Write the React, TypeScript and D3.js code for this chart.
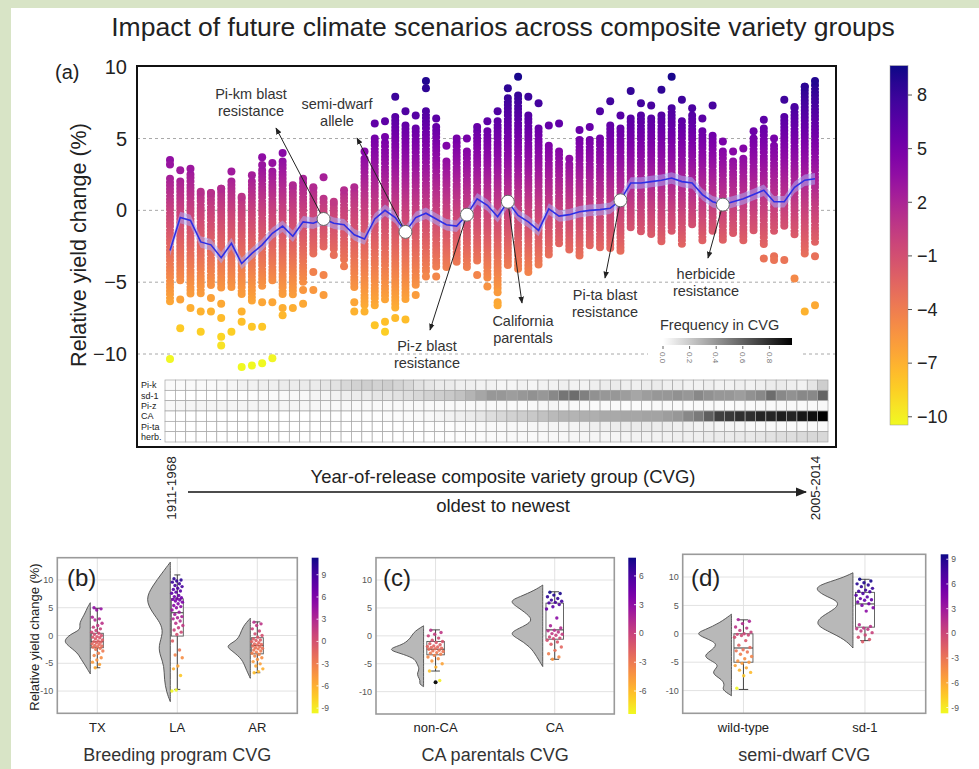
import React from "react";
import * as d3 from "d3";

const FONT = "'Liberation Sans', Arial, sans-serif";

// ---------------- Panel (a) data ----------------
const meanYield = [
  -2.8, -0.5, -0.7, -2.2, -2.4, -3.3, -2.3, -3.7,
  -3.0, -2.4, -1.6, -1.1, -1.8, -0.8, -0.9, -0.6,
  -0.9, -1.0, -1.7, -2.0, -0.6, 0.0, -0.5, -1.5,
  -0.5, -0.2, -0.6, -1.0, -1.1, -0.3, 0.8, 0.35,
  -0.45, 0.6, -0.35, -0.8, -1.4, 0.1, -0.4, -0.3,
  -0.1, 0.0, 0.05, 0.15, 0.7, 1.9, 1.9, 2.0,
  2.1, 2.25, 2.0, 1.9, 1.1, 0.6, 0.4, 0.6,
  0.8, 1.1, 1.4, 0.6, 0.6, 1.6, 2.1, 2.2,
];
const denseHi = [
  2.2, 2.0, 2.5, 1.1, 1.2, 1.5, 2.0, 0.8,
  2.0, 2.8, 2.7, 3.4, 1.5, 1.9, 1.5, 0.8,
  0.4, 1.1, 1.3, 3.6, 5.0, 4.7, 6.5, 5.9,
  5.7, 6.9, 5.8, 3.4, 4.7, 4.1, 5.5, 5.5,
  6.2, 7.8, 8.0, 6.6, 5.7, 4.5, 4.1, 3.2,
  4.9, 4.9, 5.0, 5.9, 5.7, 6.4, 6.6, 6.4,
  6.6, 7.1, 6.2, 6.6, 5.5, 5.2, 4.1, 3.4,
  3.6, 5.0, 5.7, 4.5, 6.5, 7.1, 8.6, 8.7,
];
const denseLo = [
  -6.4, -5.0, -5.9, -5.9, -5.4, -5.4, -5.4, -5.9,
  -6.5, -5.4, -5.0, -5.9, -5.9, -5.2, -3.1, -2.6,
  -2.9, -3.6, -5.4, -6.6, -6.8, -6.4, -6.8, -6.4,
  -5.4, -4.3, -4.0, -4.0, -3.6, -4.0, -3.6, -4.7,
  -5.4, -4.0, -4.3, -4.5, -4.0, -3.1, -2.4, -2.9,
  -3.35, -2.65, -2.75, -2.65, -2.9, -1.25, -1.6, -1.7,
  -2.2, -1.5, -2.5, -1.0, -2.2, -1.5, -2.2, -1.7,
  -2.2, -1.5, -2.4, -1.5, -1.25, -1.7, -3.1, -2.4,
];
const topDot = [
  3.5, 2.8, 2.9, 1.3, 1.2, 1.5, 2.7, 0.95,
  2.45, 3.7, 3.3, 4.0, 1.75, 2.2, 1.6, 2.3,
  0.6, 1.4, 1.6, 4.1, 6.05, 6.2, 7.9, 6.9,
  6.6, 9.0, 6.4, 4.5, 5.0, 5.0, 5.8, 6.2,
  6.9, 8.5, 9.3, 7.9, 7.45, 5.9, 6.05, 3.6,
  5.6, 5.8, 6.9, 7.6, 6.6, 8.3, 7.45, 7.3,
  8.4, 9.3, 7.7, 7.1, 6.4, 7.3, 4.8, 4.1,
  4.3, 5.5, 6.3, 5.0, 7.7, 7.2, 8.6, 9.0,
];
const extraCol = [
  0, 0, 1, 1, 2, 3, 3, 4, 4, 5, 5, 5, 5, 6, 7, 7, 7, 8, 8, 9, 9, 9, 9, 10, 10,
  11, 11, 12, 13, 13, 14, 14, 15, 15, 16, 17, 18, 18, 19, 20, 21, 21, 21, 22, 23,
  24, 25, 25, 26, 30, 31, 32, 32, 32, 58, 59, 59, 60, 61, 62, 63, 63,
];
const extraVal = [
  3.2, -10.35, -6.2, -8.2, -6.8, -7.05, -8.45, -6.1, -7.05, -6.5, -7.5, -8.8, -9.4, -8.45, -7.05, -7.75, -10.9, -8.1, -10.8, 3.15, -6.4, -8.1, -10.65, -6.4, -10.3,
  -6.8, -7.3, -6.8, -5.55, -6.5, -4.3, -5.55, -4.5, -5.9, -3.1, -3.9, -6.4, -7.05, -7.05, -8.0, 5.1, -7.75, -8.45, -7.5, -7.6,
  -5.9, 8.5, -4.6, -4.6, -4.5, -5.3, -5.7, -6.4, -6.6, -3.35, -3.2, -3.45, -3.45, -4.75, -7.05, -3.2, -6.6,
];

const traitRows = ["Pi-k", "sd-1", "Pi-z", "CA", "Pi-ta", "herb."];
const freqPiK = [
  0.04, 0.04, 0.05, 0.05, 0.05, 0.06, 0.08, 0.1,
  0.1, 0.12, 0.12, 0.14, 0.14, 0.15, 0.15, 0.18,
  0.2, 0.25, 0.28, 0.3, 0.28, 0.3, 0.27, 0.25,
  0.2, 0.18, 0.15, 0.15, 0.12, 0.12, 0.1, 0.1,
  0.08, 0.08, 0.1, 0.08, 0.1, 0.1, 0.12, 0.1,
  0.1, 0.12, 0.14, 0.15, 0.12, 0.12, 0.14, 0.15,
  0.12, 0.12, 0.1, 0.1, 0.12, 0.1, 0.1, 0.12,
  0.1, 0.12, 0.14, 0.15, 0.12, 0.1, 0.18, 0.3,
];
const freqSd1 = [
  0, 0, 0, 0, 0, 0, 0.02, 0.02,
  0.02, 0.03, 0.03, 0.04, 0.05, 0.06, 0.08, 0.08,
  0.1, 0.12, 0.14, 0.15, 0.18, 0.18, 0.2, 0.22,
  0.25, 0.28, 0.3, 0.32, 0.35, 0.4, 0.45, 0.5,
  0.5, 0.48, 0.5, 0.52, 0.5, 0.55, 0.62, 0.65,
  0.58, 0.52, 0.5, 0.5, 0.48, 0.45, 0.48, 0.5,
  0.5, 0.52, 0.5, 0.55, 0.52, 0.5, 0.5, 0.48,
  0.52, 0.55, 0.65, 0.55, 0.52, 0.55, 0.55, 0.68,
];
const freqPiZ = [
  0.06, 0.07, 0.08, 0.08, 0.08, 0.08, 0.08, 0.08,
  0.08, 0.08, 0.08, 0.08, 0.08, 0.07, 0.07, 0.06,
  0.06, 0.06, 0.05, 0.05, 0.05, 0.05, 0.05, 0.05,
  0.05, 0.05, 0.05, 0.05, 0.05, 0.05, 0.06, 0.06,
  0.06, 0.05, 0.05, 0.06, 0.07, 0.08, 0.06, 0.05,
  0.05, 0.04, 0.05, 0.04, 0.03, 0.03, 0.04, 0.05,
  0.05, 0.04, 0.03, 0.04, 0.05, 0.04, 0.03, 0.04,
  0.04, 0.05, 0.05, 0.06, 0.06, 0.05, 0.05, 0.06,
];
const freqCA = [
  0, 0, 0, 0, 0, 0, 0, 0,
  0, 0, 0, 0, 0, 0, 0.01, 0.01,
  0.01, 0.01, 0.02, 0.02, 0.02, 0.03, 0.03, 0.04,
  0.05, 0.06, 0.08, 0.1, 0.12, 0.15, 0.18, 0.22,
  0.25, 0.28, 0.3, 0.32, 0.35, 0.38, 0.4, 0.4,
  0.42, 0.42, 0.44, 0.44, 0.45, 0.45, 0.46, 0.46,
  0.48, 0.5, 0.55, 0.6, 0.7, 0.8, 0.82, 0.85,
  0.85, 0.88, 0.88, 0.9, 0.88, 0.92, 0.95, 1.0,
];
const freqPiTa = [
  0, 0, 0, 0, 0, 0, 0, 0,
  0, 0, 0, 0, 0, 0, 0, 0,
  0, 0, 0, 0, 0, 0, 0.01, 0.01,
  0.01, 0.02, 0.02, 0.02, 0.03, 0.03, 0.04, 0.05,
  0.05, 0.06, 0.06, 0.07, 0.07, 0.08, 0.08, 0.09,
  0.1, 0.12, 0.12, 0.14, 0.14, 0.15, 0.15, 0.14,
  0.14, 0.12, 0.12, 0.1, 0.1, 0.08, 0.08, 0.07,
  0.06, 0.06, 0.05, 0.05, 0.04, 0.04, 0.05, 0.05,
];
const freqHerb = [
  0, 0, 0, 0, 0, 0, 0, 0,
  0, 0, 0, 0, 0, 0, 0, 0,
  0, 0, 0, 0, 0, 0, 0, 0.01,
  0.01, 0.01, 0.02, 0.02, 0.02, 0.03, 0.03, 0.04,
  0.04, 0.05, 0.05, 0.05, 0.06, 0.06, 0.06, 0.07,
  0.07, 0.08, 0.08, 0.08, 0.09, 0.1, 0.1, 0.1,
  0.11, 0.12, 0.12, 0.12, 0.14, 0.15, 0.15, 0.16,
  0.16, 0.18, 0.2, 0.22, 0.22, 0.24, 0.25, 0.25,
];
const traitFreq = [freqPiK, freqSd1, freqPiZ, freqCA, freqPiTa, freqHerb];

const annoLabels = [
  ["Pi-km blast", "resistance"],
  ["semi-dwarf", "allele"],
  ["Pi-z blast", "resistance"],
  ["California", "parentals"],
  ["Pi-ta blast", "resistance"],
  ["herbicide", "resistance"],
];
const annoCols = [15, 23, 29, 33, 44, 54];

const mainYTicks = [10, 5, 0, -5, -10];
const mainGrid = [5, 0, -5, -10];
const mainCbarTicks = [8, 5, 2, -1, -4, -7, -10];
const freqTicks = [0, 0.2, 0.4, 0.6, 0.8];

// ---------------- Panels (b)-(d) data ----------------
const smallYTicks = [10, 5, 0, -5, -10];

const progCats = ["TX", "LA", "AR"];
const txPoints = [5.0, 4.8, 4.6, 3.3, 3.0, 2.8, 2.2, 1.8, 1.5, 1.2, 0.9, 0.6, 0.4, 0.2, 0.0, -0.2, -0.3, -0.4, -0.6, -0.8, -1.0, -1.1, -1.2, -1.3, -1.5, -1.6, -1.8, -1.9, -2.0, -2.1, -2.3, -2.5, -2.8, -3.2, -3.6, -4.0, -4.4, -4.8, -5.2, -5.8];
const laPoints = [10.2, 10.0, 9.8, 9.6, 9.3, 9.0, 8.8, 8.5, 8.3, 8.0, 7.8, 7.6, 7.2, 7.0, 6.8, 6.6, 6.5, 6.4, 6.2, 6.0, 5.7, 5.4, 5.2, 5.0, 4.6, 4.2, 3.8, 3.4, 3.2, 3.0, 2.6, 2.2, 1.8, 1.4, 1.0, 0.6, 0.2, -1.0, -2.6, -3.5, -4.0, -5.5, -6.0, -7.2, -9.8, -10.0];
const arPoints = [2.4, 2.1, 1.8, 1.2, 0.8, 0.3, 0.0, -0.3, -0.6, -0.8, -0.9, -1.1, -1.3, -1.5, -1.6, -1.7, -1.9, -2.0, -2.2, -2.3, -2.4, -2.6, -2.8, -3.0, -3.2, -3.4, -3.7, -4.0, -4.3, -4.7, -5.1, -5.5, -6.0, -6.5, -6.7];
// [lower whisker, q1, median, q3, upper whisker]
const progBox = [
  [-5.8, -2.2, -1.1, 0.4, 4.9],
  [-9.7, -0.1, 4.1, 6.6, 10.9],
  [-6.7, -3.3, -1.8, -0.4, 2.45],
];
// [value, relative density]
const txViolin = [[5.9, 0], [5, 0.08], [4, 0.14], [3.3, 0.2], [2, 0.3], [1.1, 0.24], [0.3, 0.5], [-0.5, 0.64], [-1.2, 0.68], [-2, 0.55], [-2.8, 0.4], [-3.5, 0.3], [-4.3, 0.24], [-5.2, 0.15], [-5.8, 0.1], [-6.9, 0]];
const laViolin = [[13.2, 0], [11.3, 0.21], [8.9, 0.47], [6.5, 0.66], [4.1, 0.47], [2.3, 0.26], [0.5, 0.18], [-1.9, 0.32], [-3.7, 0.26], [-5.5, 0.16], [-7.9, 0.16], [-10.2, 0.1], [-11.9, 0]];
const arViolin = [[3.1, 0], [1.6, 0.2], [0.2, 0.26], [-1, 0.37], [-1.9, 0.66], [-2.8, 0.47], [-4.3, 0.21], [-5.8, 0.13], [-7.7, 0]];

const parentCats = ["non-CA", "CA"];
const nonCaPoints = [1.0, 0.6, 0.3, 0.0, -0.4, -0.8, -1.0, -1.2, -1.4, -1.6, -1.8, -1.9, -2.0, -2.1, -2.2, -2.3, -2.4, -2.6, -2.7, -2.8, -3.0, -3.1, -3.3, -3.5, -3.8, -4.1, -4.5, -5.0, -5.6, -6.3, -8.0];
const caPoints = [7.8, 7.6, 7.3, 7.0, 6.7, 6.4, 6.2, 6.0, 5.9, 5.6, 5.2, 4.8, 3.2, 1.8, 1.4, 1.0, 0.9, 0.7, 0.4, 0.3, 0.1, -0.2, -0.4, -0.5, -0.8, -1.1, -1.5, -2.0, -2.6, -3.2, -3.8, -4.2];
const parentBox = [
  [-6.3, -3.4, -2.4, -1.0, 1.07],
  [-4.2, -0.6, 1.07, 5.86, 7.9],
];
const parentOutliers = [[-8.3], []];
const nonCaViolin = [[1.8, 0], [0.8, 0.24], [-0.1, 0.32], [-0.7, 0.39], [-1.6, 0.55], [-2.4, 0.97], [-3.1, 0.63], [-4, 0.24], [-4.9, 0.18], [-6, 0.1], [-6.6, 0.17], [-7.3, 0.15], [-8, 0.08], [-8.6, 0.12], [-9.1, 0]];
const caViolin = [[9.1, 0], [8.2, 0.2], [7, 0.6], [6.2, 0.9], [5, 0.63], [3.5, 0.33], [2.6, 0.29], [1.7, 0.5], [0.5, 0.9], [-0.4, 0.68], [-1.9, 0.33], [-3.7, 0.16], [-5.5, 0]];

const dwarfCats = ["wild-type", "sd-1"];
const wildPoints = [2.5, 2.2, 1.8, 1.2, 1.0, 0.6, 0.3, 0.0, -0.1, -0.2, -0.3, -0.6, -1.2, -2.0, -2.4, -2.8, -3.0, -3.2, -3.6, -4.0, -4.4, -4.8, -5.0, -5.2, -5.6, -6.0, -6.4, -6.8, -7.4, -9.6];
const sd1Points = [9.6, 9.3, 9.0, 8.8, 8.6, 8.3, 8.0, 7.7, 7.5, 7.4, 7.1, 6.8, 6.5, 6.2, 6.0, 5.9, 5.6, 5.3, 5.0, 4.6, 4.0, 1.6, 1.3, 1.0, 0.9, 0.8, 0.5, 0.2, -0.2, -0.6, -1.0, -1.4];
const dwarfBox = [
  [-9.8, -5.0, -2.5, 0.0, 2.46],
  [-1.2, 1.17, 5.26, 7.3, 9.6],
];
const wildViolin = [[3.45, 0], [1.9, 0.31], [0.7, 0.7], [0, 0.97], [-1.05, 0.57], [-1.9, 0.35], [-3.1, 0.57], [-4, 0.75], [-4.9, 0.48], [-5.7, 0.31], [-6.9, 0.57], [-8.1, 0.22], [-9.2, 0.18], [-9.8, 0.26], [-10.9, 0]];
const sd1Violin = [[10.75, 0], [9.8, 0.29], [8.6, 0.9], [7.7, 0.99], [6.5, 0.68], [5.7, 0.37], [4.5, 0.42], [3, 0.86], [1.6, 0.99], [0.4, 0.64], [-1.05, 0.2], [-2.5, 0]];

const smallCbarTicks9 = [9, 6, 3, 0, -3, -6, -9];
const smallCbarTicks6 = [6, 3, 0, -3, -6];

// ---------------- helpers ----------------
const plasmaStops = d3.range(0, 1.0001, 0.05);
const minus = (v: number) => (v < 0 ? "\u2212" + Math.abs(v) : String(v));

const N = meanYield.length;
const xDot = d3.scalePoint<number>().domain(d3.range(N)).range([170, 815]);
const yMain = d3.scaleLinear().domain([-10, 10]).range([354, 66.7]);
const xHeat = d3.scaleBand<number>().domain(d3.range(N)).range([165, 828]);
const yHeat = d3.scaleBand<string>().domain(traitRows).range([380, 442]);
const cMin = -10.46, cMax = 9.64;
const colorMain = (v: number) => d3.interpolatePlasma(1 - (v - cMin) / (cMax - cMin));
const cbY = d3.scaleLinear().domain([cMin, cMax]).range([425, 65.7]);
const fx = d3.scaleLinear().domain([0, 1]).range([663, 796]);

const annoLayout = [
  { ex: 276, ey: 128, tx: 251, ty: [94, 111] },
  { ex: 357, ey: 138, tx: 337, ty: [104, 121] },
  { ex: 430, ey: 330, tx: 427, ty: [346, 363] },
  { ex: 522, ey: 303, tx: 523, ty: [321, 338] },
  { ex: 605, ey: 278, tx: 605, ty: [295, 312] },
  { ex: 708, ey: 258, tx: 706, ty: [274, 291] },
];

type PanelCfg = {
  left: number; right: number; top: number; bottom: number;
  cats: string[]; points: number[][]; boxes: number[][]; violins: number[][][];
  outliers?: number[][];
  boxW: number; edgeOff: number;
  cbX: number; cbW: number; cMin: number; cMax: number; cTicks: number[];
  label: string; title: string; labelX: number;
  gid: string;
};

function SmallPanel({ p }: { p: PanelCfg }) {
  const y = d3.scaleLinear().domain([-14, 14]).range([p.bottom, p.top]);
  const x = d3.scalePoint<string>().domain(p.cats).range([p.left, p.right]).padding(0.5);
  const wScale = d3.scaleLinear().domain([0, 1]).range([0, 38]);
  const col = (v: number) => d3.interpolatePlasma(1 - (v - p.cMin) / (p.cMax - p.cMin));
  const cby = d3.scaleLinear().domain([p.cMin, p.cMax]).range([p.bottom, p.top]);
  return (
    <g>
      <rect x={p.left} y={p.top} width={p.right - p.left} height={p.bottom - p.top} fill="#fff" />
      {smallYTicks.map((t) => (
        <line key={"h" + t} x1={p.left} x2={p.right} y1={y(t)} y2={y(t)} stroke="#e2e2e2" strokeWidth={1} />
      ))}
      {p.cats.map((c) => (
        <line key={"v" + c} x1={x(c)} x2={x(c)} y1={p.top} y2={p.bottom} stroke="#e2e2e2" strokeWidth={1} />
      ))}
      {p.cats.map((c, ci) => {
        const cx = x(c) as number;
        const edge = cx - p.edgeOff;
        const area = d3
          .area<number[]>()
          .y((d) => y(d[0]))
          .x0((d) => edge - wScale(d[1]))
          .x1(() => edge)
          .curve(d3.curveBasis);
        const [wlo, q1, med, q3, whi] = p.boxes[ci];
        const bw = p.boxW;
        return (
          <g key={c}>
            <path d={area(p.violins[ci]) || ""} fill="#b8b8b8" stroke="#4a4a4a" strokeWidth={0.9} />
            <line x1={cx} x2={cx} y1={y(whi)} y2={y(q3)} stroke="#333" strokeWidth={0.9} />
            <line x1={cx} x2={cx} y1={y(q1)} y2={y(wlo)} stroke="#333" strokeWidth={0.9} />
            <line x1={cx - bw / 4} x2={cx + bw / 4} y1={y(whi)} y2={y(whi)} stroke="#333" strokeWidth={0.9} />
            <line x1={cx - bw / 4} x2={cx + bw / 4} y1={y(wlo)} y2={y(wlo)} stroke="#333" strokeWidth={0.9} />
            <rect x={cx - bw / 2} y={y(q3)} width={bw} height={y(q1) - y(q3)} fill="#fff" fillOpacity={0.85} stroke="#555" strokeWidth={0.9} />
            <line x1={cx - bw / 2} x2={cx + bw / 2} y1={y(med)} y2={y(med)} stroke="#444" strokeWidth={1.1} />
            {(p.outliers ? p.outliers[ci] : []).map((o, oi) => (
              <circle key={"o" + oi} cx={cx} cy={y(o)} r={2} fill="#111" />
            ))}
            {p.points[ci].map((v, i) => {
              const frac = (i * 0.6180339 + 0.21) % 1;
              return (
                <circle key={i} cx={cx + (frac - 0.5) * bw * 0.95} cy={y(v)} r={1.7} fill={col(v)} fillOpacity={0.9} />
              );
            })}
          </g>
        );
      })}
      <rect x={p.left} y={p.top} width={p.right - p.left} height={p.bottom - p.top} fill="none" stroke="#9a9a9a" strokeWidth={1.6} />
      {smallYTicks.map((t) => (
        <text key={"yl" + t} x={p.left - 4} y={y(t)} dy="0.35em" textAnchor="end" fontSize={9} fill="#555" fontFamily={FONT}>
          {String(t)}
        </text>
      ))}
      {p.cats.map((c) => (
        <text key={"xl" + c} x={x(c)} y={732} textAnchor="middle" fontSize={13} fill="#222" fontFamily={FONT}>
          {c}
        </text>
      ))}
      <text x={p.labelX} y={586} fontSize={24} fill="#222" fontFamily={FONT}>{p.label}</text>
      <text x={(p.left + p.right) / 2} y={761} textAnchor="middle" fontSize={18} fill="#333" fontFamily={FONT}>{p.title}</text>
      <rect x={p.cbX} y={p.top} width={p.cbW} height={p.bottom - p.top} fill={`url(#${p.gid})`} />
      {p.cTicks.map((t) => (
        <g key={"ct" + t}>
          <line x1={p.cbX + p.cbW - 2} x2={p.cbX + p.cbW} y1={cby(t)} y2={cby(t)} stroke="#fff" strokeWidth={0.8} />
          <text x={p.cbX + p.cbW + 3} y={cby(t)} dy="0.35em" fontSize={8.5} fill="#555" fontFamily={FONT}>
            {String(t)}
          </text>
        </g>
      ))}
    </g>
  );
}

const panelB: PanelCfg = {
  left: 57.3, right: 297.3, top: 557.7, bottom: 713.3,
  cats: progCats, points: [txPoints, laPoints, arPoints], boxes: progBox,
  violins: [txViolin, laViolin, arViolin], boxW: 12, edgeOff: 7,
  cbX: 311.7, cbW: 6.8, cMin: -9.7, cMax: 11.3, cTicks: smallCbarTicks9,
  label: "(b)", title: "Breeding program CVG", labelX: 67, gid: "pl",
};
const panelC: PanelCfg = {
  left: 376, right: 614.3, top: 557.7, bottom: 714,
  cats: parentCats, points: [nonCaPoints, caPoints], boxes: parentBox,
  violins: [nonCaViolin, caViolin], outliers: parentOutliers, boxW: 17.5, edgeOff: 12,
  cbX: 628.3, cbW: 7.7, cMin: -8.4, cMax: 7.9, cTicks: smallCbarTicks6,
  label: "(c)", title: "CA parentals CVG", labelX: 383, gid: "pl",
};
const panelD: PanelCfg = {
  left: 682.7, right: 925.7, top: 554.3, bottom: 713.3,
  cats: dwarfCats, points: [wildPoints, sd1Points], boxes: dwarfBox,
  violins: [wildViolin, sd1Violin], boxW: 19, edgeOff: 12,
  cbX: 940.7, cbW: 7.6, cMin: -9.7, cMax: 9.6, cTicks: smallCbarTicks9,
  label: "(d)", title: "semi-dwarf CVG", labelX: 691, gid: "pl",
};

export default function App() {
  const line = d3.line<number>().x((_, i) => xDot(i) as number).y((d) => yMain(d));
  const ribbon = d3
    .area<number>()
    .x((_, i) => xDot(i) as number)
    .y0((d) => yMain(d - 0.4))
    .y1((d) => yMain(d + 0.4));

  return (
    <svg width={979} height={769} style={{ position: "absolute", left: 0, top: 0 }} fontFamily={FONT}>
      <defs>
        <linearGradient id="pl" x1="0" y1="0" x2="0" y2="1">
          {plasmaStops.map((t) => (
            <stop key={t} offset={t} stopColor={d3.interpolatePlasma(t)} />
          ))}
        </linearGradient>
        <linearGradient id="plMain" gradientUnits="userSpaceOnUse" x1="0" y1={yMain(cMax)} x2="0" y2={yMain(cMin)}>
          {plasmaStops.map((t) => (
            <stop key={t} offset={t} stopColor={d3.interpolatePlasma(t)} />
          ))}
        </linearGradient>
        <linearGradient id="greyG" x1="0" y1="0" x2="1" y2="0">
          <stop offset="0" stopColor="#ffffff" />
          <stop offset="1" stopColor="#000000" />
        </linearGradient>
        <marker id="arr" viewBox="0 0 10 10" refX="9" refY="5" markerWidth="7" markerHeight="7" orient="auto-start-reverse">
          <path d="M0,1L10,5L0,9z" fill="#222" />
        </marker>
      </defs>
      <rect x={0} y={0} width={979} height={769} fill="#fff" />
      <rect x={0} y={0} width={11} height={769} fill="#d8e4c6" />
      <rect x={0} y={0} width={979} height={8} fill="#d8e4c6" />

      <text x={503} y={36} textAnchor="middle" fontSize={26.5} fill="#222">
        Impact of future climate scenarios across composite variety groups
      </text>

      {/* Panel (a) */}
      <text x={55} y={79} fontSize={20} fill="#222">(a)</text>
      {mainYTicks.map((t) => (
        <text key={t} x={127} y={yMain(t)} dy="0.35em" textAnchor="end" fontSize={20} fill="#222">
          {minus(t)}
        </text>
      ))}
      <text transform={`translate(78,245) rotate(-90)`} textAnchor="middle" dy="0.35em" fontSize={21.5} fill="#222">
        Relative yield change (%)
      </text>
      {mainGrid.map((t) => (
        <line key={t} x1={137} x2={836} y1={yMain(t)} y2={yMain(t)} stroke="#a8a8a8" strokeDasharray="3,3" strokeWidth={1} />
      ))}

      {/* dense dot columns (stacked dots rendered along each column's range) */}
      {denseHi.map((hi, i) => (
        <line key={"b" + i} x1={xDot(i)} x2={xDot(i)} y1={yMain(hi)} y2={yMain(denseLo[i])} stroke="url(#plMain)" strokeWidth={8} strokeLinecap="round" strokeDasharray="0 3.4" />
      ))}
      {topDot.map((v, i) => (
        <circle key={"t" + i} cx={xDot(i)} cy={yMain(v)} r={4} fill={colorMain(v)} />
      ))}
      {extraVal.map((v, i) => (
        <circle key={"e" + i} cx={xDot(extraCol[i])} cy={yMain(v)} r={4} fill={colorMain(v)} />
      ))}

      {/* mean line */}
      <path d={ribbon(meanYield) || ""} fill="#a9a9f5" fillOpacity={0.55} />
      <path d={line(meanYield) || ""} fill="none" stroke="#2e2ee6" strokeWidth={1.6} />

      {/* annotations */}
      {annoCols.map((c, i) => {
        const a = annoLayout[i];
        return (
          <g key={"a" + i}>
            <line x1={xDot(c)} y1={yMain(meanYield[c])} x2={a.ex} y2={a.ey} stroke="#222" strokeWidth={1} markerEnd="url(#arr)" />
            <circle cx={xDot(c)} cy={yMain(meanYield[c])} r={6.5} fill="#fff" stroke="#666" strokeWidth={1} />
            {annoLabels[i].map((s, k) => (
              <text key={k} x={a.tx} y={a.ty[k]} dy="0.35em" textAnchor="middle" fontSize={14.5} fill="#333">
                {s}
              </text>
            ))}
          </g>
        );
      })}

      {/* frequency legend */}
      <rect x={648} y={313} width={152} height={60} fill="#fff" />
      <text x={660} y={330} fontSize={14.5} fill="#333">Frequency in CVG</text>
      <rect x={fx(0)} y={338} width={fx(0.97) - fx(0)} height={7} fill="url(#greyG)" />
      {freqTicks.map((t) => (
        <g key={t}>
          <line x1={fx(t)} x2={fx(t)} y1={346} y2={349} stroke="#666" strokeWidth={1} />
          <text transform={`translate(${fx(t)},352) rotate(90)`} dy="0.35em" fontSize={8} fill="#777">
            {t.toFixed(1)}
          </text>
        </g>
      ))}

      {/* heatmap */}
      {traitRows.map((r, ri) => (
        <g key={r}>
          <text x={141} y={(yHeat(r) as number) + yHeat.bandwidth() / 2} dy="0.35em" fontSize={9} fill="#222">
            {r}
          </text>
          {traitFreq[ri].map((f, ci) => (
            <rect key={ci} x={xHeat(ci)} y={yHeat(r)} width={xHeat.bandwidth()} height={yHeat.bandwidth()} fill={d3.interpolateGreys(f)} stroke="#a5a5a5" strokeWidth={0.7} />
          ))}
        </g>
      ))}

      <rect x={137} y={66} width={699} height={381} fill="none" stroke="#111" strokeWidth={2} />

      {/* main colorbar */}
      <rect x={890} y={65.7} width={18} height={425 - 65.7} fill="url(#pl)" stroke="#999" strokeWidth={0.5} />
      {mainCbarTicks.map((t) => (
        <g key={t}>
          <line x1={908} x2={912} y1={cbY(t)} y2={cbY(t)} stroke="#555" strokeWidth={1} />
          <text x={917} y={cbY(t)} dy="0.35em" fontSize={18} fill="#222">{minus(t)}</text>
        </g>
      ))}

      {/* x annotation */}
      <text transform="translate(176,488) rotate(-90)" textAnchor="middle" fontSize={13.5} fill="#222">1911-1968</text>
      <text transform="translate(820,488) rotate(-90)" textAnchor="middle" fontSize={13.5} fill="#222">2005-2014</text>
      <text x={503} y={477} dy="0.35em" textAnchor="middle" fontSize={18.5} fill="#222">
        Year-of-release composite variety group (CVG)
      </text>
      <line x1={188} x2={806} y1={492} y2={492} stroke="#111" strokeWidth={1.6} markerEnd="url(#arr)" />
      <text x={503} y={506} dy="0.35em" textAnchor="middle" fontSize={18.5} fill="#222">
        oldest to newest
      </text>

      {/* bottom panels */}
      <text transform="translate(34,637) rotate(-90)" textAnchor="middle" dy="0.35em" fontSize={13} fill="#222">
        Relative yield change (%)
      </text>
      <SmallPanel p={panelB} />
      <SmallPanel p={panelC} />
      <SmallPanel p={panelD} />
    </svg>
  );
}
